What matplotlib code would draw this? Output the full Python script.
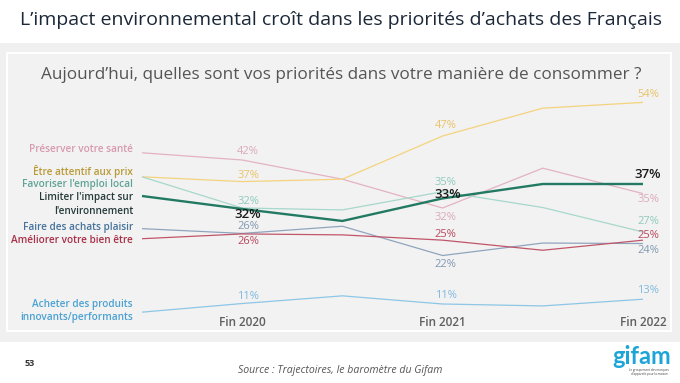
import matplotlib.pyplot as plt
from matplotlib.patches import Rectangle

W, H = 680, 383

# six survey waves, only the year ends are named on the axis
periods = ["", "Fin 2020", "", "Fin 2021", "", "Fin 2022"]
label_idx = [1, 3, 5]

# plotted values
sante = [43.5, 42, 38, 32, 40.3, 35]
prix = [38.5, 37.5, 38, 47, 52.8, 54]
emploi = [38.5, 32, 31.6, 35.4, 32.1, 27]
impact = [34.5, 31.8, 29.3, 34, 37, 37]
plaisir = [27.7, 26.7, 28.2, 22.1, 24.7, 24.6]
bien_etre = [25.6, 26.6, 26.4, 25.3, 23.2, 25.3]
innovants = [10.3, 12.1, 13.7, 12, 11.6, 13]

# published percentages at Fin 2020 / Fin 2021 / Fin 2022
sante_pct = [42, 32, 35]
prix_pct = [37, 47, 54]
emploi_pct = [32, 35, 27]
impact_pct = [32, 33, 37]
plaisir_pct = [26, 22, 24]
bien_etre_pct = [26, 25, 25]
innovants_pct = [11, 11, 13]

FONT = ["Open Sans", "DejaVu Sans"]


def fx(px):
    return px / W


def fy(py):
    return 1 - py / H


fig = plt.figure(figsize=(W / 100, H / 100), dpi=100)
fig.patch.set_facecolor("white")

# grey band + inner framed panel
fig.patches.append(Rectangle((0, fy(342)), 1, fy(43) - fy(342), transform=fig.transFigure,
                             facecolor="#f0f0f0", edgecolor="none", zorder=-2))
fig.patches.append(Rectangle((fx(7), fy(331)), fx(671) - fx(7), fy(53) - fy(331),
                             transform=fig.transFigure, facecolor="#f2f2f2",
                             edgecolor="white", linewidth=1.5, zorder=-1))

fig.text(fx(341), fy(20), "L’impact environnemental croît dans les priorités d’achats des Français",
         ha="center", va="center", fontsize=14, color="#1b2838", family=FONT)
fig.text(fx(341), fy(75), "Aujourd’hui, quelles sont vos priorités dans votre manière de consommer ?",
         ha="center", va="center", fontsize=12.3, color="#555555", family=FONT)

ax = fig.add_axes([fx(142), fy(361.6), fx(643) - fx(142), fy(73.6) - fy(361.6)])
ax.set_xlim(0, 5)
ax.set_ylim(0, 60)
ax.axis("off")
ax.patch.set_alpha(0)

# name, values, pct, line colour, text colour, linewidth, name y (px), label offsets (dx, dy px)
series = [
    ("Préserver votre santé", sante, sante_pct, "#e3b3c3", "#d89aae", 0.9, [150],
     [(6, -8), (3, 9), (5, 6)]),
    ("Être attentif aux prix", prix, prix_pct, "#f5d37e", "#b89a36", 0.9, [171.5],
     [(6, -6), (3, -10), (5, -8)]),
    ("Favoriser l'emploi local", emploi, emploi_pct, "#a6d8cb", "#5ea396", 0.9, [184.5],
     [(6, -7), (3, -9), (5, -11)]),
    ("Limiter l'impact sur\nl'environnement", impact, impact_pct, "#237a63", "#263a3a", 1.7, [197.5, 211],
     [(6, 6), (5, -4), (5, -9)]),
    ("Faire des achats plaisir", plaisir, plaisir_pct, "#8fa5bd", "#45739c", 0.9, [227.5],
     [(6, -7), (3, 9), (5, 6.5)]),
    ("Améliorer votre bien être", bien_etre, bien_etre_pct, "#c0566a", "#a83048", 0.9, [240.5],
     [(6, 8), (3, -6), (5, -5)]),
    ("Acheter des produits\ninnovants/performants", innovants, innovants_pct, "#8ec6e6", "#4ba2d2", 0.9,
     [304, 317.5], [(6, -7), (3, -8), (5, -9)]),
]

pct_colors = {
    "Préserver votre santé": "#dba9ba",
    "Être attentif aux prix": "#eac366",
    "Favoriser l'emploi local": "#8fcabc",
    "Faire des achats plaisir": "#8199b2",
    "Améliorer votre bien être": "#b9485c",
    "Acheter des produits\ninnovants/performants": "#7fb9de",
}

x = list(range(len(periods)))
for name, vals, pct, lc, tc, lw, name_y, offs in series:
    is_main = lw > 1.5
    ax.plot(x, vals, color=lc, lw=lw, solid_capstyle="butt", clip_on=False, zorder=3 if is_main else 2)
    for line, yy in zip(name.split("\n"), name_y):
        fig.text(fx(133), fy(yy), line, ha="right", va="center", fontsize=7.2, color=tc,
                 fontweight="semibold", family=FONT)
    for i, p, (dx, dy) in zip(label_idx, pct, offs):
        ax.annotate(f"{p}%", (i, vals[i]), xytext=(dx * 0.72, -dy * 0.72), textcoords="offset points",
                    ha="center", va="center", family=FONT,
                    fontsize=9.5 if is_main else 8,
                    fontweight="semibold" if is_main else "normal",
                    color="#1a1a1a" if is_main else pct_colors[name], zorder=4)

for i in label_idx:
    ax.text(i, (361.6 - 323) / 4.8, periods[i], ha="center", va="center", fontsize=8.5,
            fontweight="semibold", color="#5f5f5f", family=FONT)

# footer
fig.text(fx(30), fy(363), "53", ha="center", va="center", fontsize=6.5, fontweight="bold",
         color="#333333", family=FONT)
fig.text(fx(340), fy(371), "Source : Trajectoires, le baromètre du Gifam", ha="center", va="center",
         fontsize=7.6, style="italic", color="#555555", family=FONT)
fig.text(fx(642), fy(356), "gifam", ha="center", va="center", fontsize=17, fontweight="bold",
         color="#1ea5d8", family=["Lato", "DejaVu Sans"])
fig.text(fx(649), fy(372), "Le groupement des marques\nd'appareils pour la maison", ha="center",
         va="center", fontsize=2.2, color="#444444", family=FONT, linespacing=1.1)

fig.savefig("out.png", dpi=100)
